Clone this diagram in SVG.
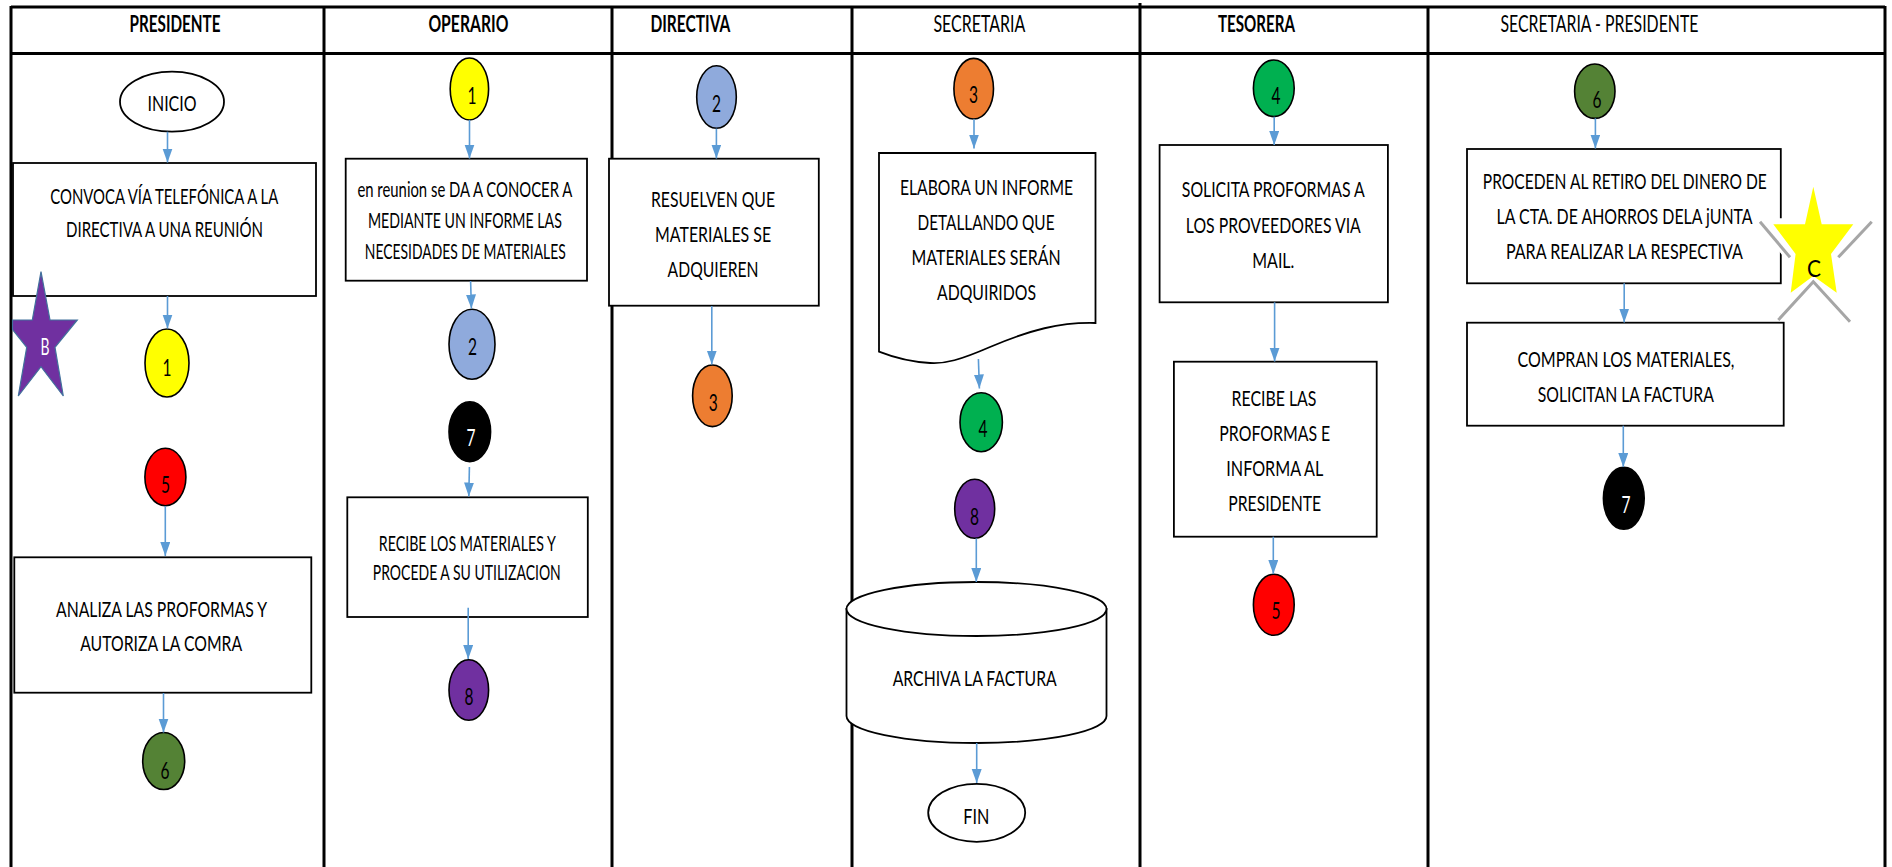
<svg xmlns="http://www.w3.org/2000/svg" width="1892" height="867" viewBox="0 0 1892 867">
  <defs>
    <style>
      .lane { stroke: #000; stroke-width: 3; fill: none; }
      .box { fill: #fff; stroke: #000; stroke-width: 1.8; }
      .conn { stroke: #5B9BD5; stroke-width: 1.6; fill: none; marker-end: url(#arrow); }
      .dot { stroke: #000; stroke-width: 1.6; }
      .t { font-family: Lato, "Liberation Sans", sans-serif; font-size: 22px; fill: #000; text-anchor: middle; }
      .h { font-family: Lato, "Liberation Sans", sans-serif; font-size: 23px; fill: #000; text-anchor: middle; }
      .hb { font-weight: bold; }
      .n { font-family: Lato, "Liberation Sans", sans-serif; font-size: 23px; fill: #000; text-anchor: middle; }
      .w { fill: #fff; }
    </style>
    <marker id="arrow" markerUnits="userSpaceOnUse" markerWidth="16" markerHeight="12" refX="14" refY="5" orient="auto">
      <path d="M0,0 L14,5 L0,10 Z" fill="#5B9BD5"/>
    </marker>
  </defs>

  <rect width="1892" height="867" fill="#fff"/>

  <!-- swimlane grid -->
  <g id="lanes">
    <line class="lane" x1="11" y1="7" x2="1885" y2="7"/>
    <line class="lane" x1="11" y1="53.5" x2="1885" y2="53.5"/>
    <line class="lane" x1="11" y1="6" x2="11" y2="867"/>
    <line class="lane" x1="324" y1="6" x2="324" y2="867"/>
    <line class="lane" x1="612" y1="6" x2="612" y2="867"/>
    <line class="lane" x1="852" y1="6" x2="852" y2="867"/>
    <line class="lane" x1="1140" y1="3" x2="1140" y2="867"/>
    <line class="lane" x1="1428" y1="6" x2="1428" y2="867"/>
    <line class="lane" x1="1885" y1="6" x2="1885" y2="867"/>
    <text class="h hb" x="175" y="32" textLength="91" lengthAdjust="spacingAndGlyphs">PRESIDENTE</text>
    <text class="h hb" x="468.4" y="32" textLength="80" lengthAdjust="spacingAndGlyphs">OPERARIO</text>
    <text class="h hb" x="690.4" y="32" textLength="80" lengthAdjust="spacingAndGlyphs">DIRECTIVA</text>
    <text class="h" x="979.4" y="32" textLength="92" lengthAdjust="spacingAndGlyphs">SECRETARIA</text>
    <text class="h hb" x="1256.5" y="32" textLength="77" lengthAdjust="spacingAndGlyphs">TESORERA</text>
    <text class="h" x="1599.4" y="32" textLength="198" lengthAdjust="spacingAndGlyphs">SECRETARIA - PRESIDENTE</text>
  </g>

  <!-- PRESIDENTE lane -->
  <g id="inicio">
    <ellipse class="box" cx="172" cy="101.7" rx="52" ry="30"/>
    <text class="t" x="172" y="110.7" textLength="49" lengthAdjust="spacingAndGlyphs">INICIO</text>
  </g>
  <g id="convoca">
    <rect class="box" x="13" y="163" width="303" height="133"/>
    <text class="t" x="164.3" y="204" textLength="228" lengthAdjust="spacingAndGlyphs">CONVOCA VÍA TELEFÓNICA A LA</text>
    <text class="t" x="164.5" y="237.3" textLength="197" lengthAdjust="spacingAndGlyphs">DIRECTIVA A UNA REUNIÓN</text>
  </g>
  <g id="star-b">
    <polygon points="41,271.7 50,320 77.3,320 55,347.3 63.3,396 41,366.7 18.3,396 26.7,347.3 12.5,329.5 12.5,320 32.3,320" fill="#7030A0" stroke="#41719C" stroke-width="1.2" stroke-linejoin="miter"/>
    <text class="n w" x="45" y="355" textLength="9" lengthAdjust="spacingAndGlyphs">B</text>
  </g>
  <g id="pres-1">
    <ellipse class="dot" cx="167" cy="363" rx="22" ry="34" fill="#FFFF00"/>
    <text class="n" x="167" y="376" textLength="9" lengthAdjust="spacingAndGlyphs">1</text>
  </g>
  <g id="pres-5">
    <ellipse class="dot" cx="165.4" cy="477" rx="20.5" ry="28.7" fill="#FF0000"/>
    <text class="n" x="165.6" y="492.7" textLength="9" lengthAdjust="spacingAndGlyphs">5</text>
  </g>
  <g id="analiza">
    <rect class="box" x="14.3" y="557.3" width="297" height="135.4"/>
    <text class="t" x="161.5" y="617" textLength="211" lengthAdjust="spacingAndGlyphs">ANALIZA LAS PROFORMAS Y</text>
    <text class="t" x="161.2" y="651.3" textLength="162" lengthAdjust="spacingAndGlyphs">AUTORIZA LA COMRA</text>
  </g>
  <g id="pres-6">
    <ellipse class="dot" cx="163.7" cy="761" rx="21" ry="28.5" fill="#548235"/>
    <text class="n" x="165" y="778.7" textLength="9" lengthAdjust="spacingAndGlyphs">6</text>
  </g>

  <!-- OPERARIO lane -->
  <g id="oper-1">
    <ellipse class="dot" cx="469.4" cy="89" rx="19.2" ry="31" fill="#FFFF00"/>
    <text class="n" x="472" y="104" textLength="9" lengthAdjust="spacingAndGlyphs">1</text>
  </g>
  <g id="reunion">
    <rect class="box" x="345.7" y="158.7" width="241.3" height="122"/>
    <text class="t" x="464.9" y="196.7" textLength="215" lengthAdjust="spacingAndGlyphs">en reunion se DA A CONOCER A</text>
    <text class="t" x="464.9" y="228.3" textLength="194" lengthAdjust="spacingAndGlyphs">MEDIANTE  UN INFORME LAS</text>
    <text class="t" x="465.3" y="259.3" textLength="201" lengthAdjust="spacingAndGlyphs">NECESIDADES  DE MATERIALES</text>
  </g>
  <g id="oper-2">
    <ellipse class="dot" cx="472" cy="344.3" rx="23" ry="35" fill="#8FAADC"/>
    <text class="n" x="472.6" y="355" textLength="9" lengthAdjust="spacingAndGlyphs">2</text>
  </g>
  <g id="oper-7">
    <ellipse class="dot" cx="469.8" cy="431.7" rx="20.8" ry="30" fill="#000"/>
    <text class="n w" x="471" y="446" textLength="9" lengthAdjust="spacingAndGlyphs">7</text>
  </g>
  <g id="recibe-materiales">
    <rect class="box" x="347.3" y="497.3" width="240.5" height="119.7"/>
    <text class="t" x="467.3" y="550.7" textLength="177" lengthAdjust="spacingAndGlyphs">RECIBE LOS MATERIALES  Y</text>
    <text class="t" x="466.8" y="580.3" textLength="188" lengthAdjust="spacingAndGlyphs">PROCEDE A SU UTILIZACION</text>
  </g>
  <g id="oper-8">
    <ellipse class="dot" cx="468.8" cy="690" rx="19.8" ry="30.3" fill="#7030A0"/>
    <text class="n" x="469" y="705.3" textLength="9" lengthAdjust="spacingAndGlyphs">8</text>
  </g>

  <!-- DIRECTIVA lane -->
  <g id="dir-2">
    <ellipse class="dot" cx="716.5" cy="97" rx="19.8" ry="31.3" fill="#8FAADC"/>
    <text class="n" x="716.5" y="111.7" textLength="9" lengthAdjust="spacingAndGlyphs">2</text>
  </g>
  <g id="resuelven">
    <rect class="box" x="609" y="158.7" width="209.8" height="147"/>
    <text class="t" x="713" y="206.7" font-size="23" textLength="124" lengthAdjust="spacingAndGlyphs">RESUELVEN QUE</text>
    <text class="t" x="713.1" y="242.3" font-size="23" textLength="116" lengthAdjust="spacingAndGlyphs">MATERIALES SE</text>
    <text class="t" x="713.1" y="277.3" font-size="23" textLength="91" lengthAdjust="spacingAndGlyphs">ADQUIEREN</text>
  </g>
  <g id="dir-3">
    <ellipse class="dot" cx="712.4" cy="395.8" rx="19.8" ry="30.8" fill="#ED7D31"/>
    <text class="n" x="713.3" y="410.7" textLength="9" lengthAdjust="spacingAndGlyphs">3</text>
  </g>

  <!-- SECRETARIA lane -->
  <g id="sec-3">
    <ellipse class="dot" cx="973.7" cy="88.7" rx="19.8" ry="30.3" fill="#ED7D31"/>
    <text class="n" x="973.5" y="103.3" textLength="9" lengthAdjust="spacingAndGlyphs">3</text>
  </g>
  <g id="informe">
    <path class="box" d="M879,153 H1095.5 V323 C1060,322 1030,330 990,347 C960,360 945,364 930,363 C910,362 895,358 879,351.7 Z"/>
    <text class="t" x="986.5" y="195" textLength="173" lengthAdjust="spacingAndGlyphs">ELABORA UN INFORME</text>
    <text class="t" x="986" y="230" textLength="137" lengthAdjust="spacingAndGlyphs">DETALLANDO QUE</text>
    <text class="t" x="986.1" y="265" textLength="149" lengthAdjust="spacingAndGlyphs">MATERIALES SERÁN</text>
    <text class="t" x="986.5" y="300" textLength="99" lengthAdjust="spacingAndGlyphs">ADQUIRIDOS</text>
  </g>
  <g id="sec-4">
    <ellipse class="dot" cx="981.2" cy="422.2" rx="21.2" ry="29.5" fill="#00B050"/>
    <text class="n" x="983" y="437.3" textLength="9" lengthAdjust="spacingAndGlyphs">4</text>
  </g>
  <g id="sec-8">
    <ellipse class="dot" cx="974.7" cy="508.8" rx="20" ry="29.5" fill="#7030A0"/>
    <text class="n" x="974.5" y="525" textLength="9" lengthAdjust="spacingAndGlyphs">8</text>
  </g>
  <g id="archiva">
    <path class="box" d="M846.5,609 V716 A130,27 0 0 0 1106.5,716 V609 Z"/>
    <ellipse class="box" cx="976.5" cy="609" rx="130" ry="27"/>
    <text class="t" x="974.7" y="686.3" textLength="164" lengthAdjust="spacingAndGlyphs">ARCHIVA LA FACTURA</text>
  </g>
  <g id="fin">
    <ellipse class="box" cx="976.7" cy="812.8" rx="48.5" ry="29"/>
    <text class="t" x="976.3" y="823.7" textLength="26" lengthAdjust="spacingAndGlyphs">FIN</text>
  </g>

  <!-- TESORERA lane -->
  <g id="tes-4">
    <ellipse class="dot" cx="1273.8" cy="88.3" rx="20.4" ry="28.3" fill="#00B050"/>
    <text class="n" x="1276" y="104" textLength="9" lengthAdjust="spacingAndGlyphs">4</text>
  </g>
  <g id="solicita">
    <rect class="box" x="1159.6" y="145" width="228.3" height="157.3"/>
    <text class="t" x="1273.3" y="197.3" textLength="183" lengthAdjust="spacingAndGlyphs">SOLICITA PROFORMAS A</text>
    <text class="t" x="1273.3" y="233.3" textLength="175" lengthAdjust="spacingAndGlyphs">LOS PROVEEDORES VIA</text>
    <text class="t" x="1273.3" y="267.7" textLength="42" lengthAdjust="spacingAndGlyphs">MAIL.</text>
  </g>
  <g id="recibe-proformas">
    <rect class="box" x="1173.9" y="361.7" width="202.8" height="175"/>
    <text class="t" x="1274" y="406" textLength="85" lengthAdjust="spacingAndGlyphs">RECIBE LAS</text>
    <text class="t" x="1274.8" y="441" textLength="111" lengthAdjust="spacingAndGlyphs">PROFORMAS E</text>
    <text class="t" x="1274.8" y="476" textLength="97" lengthAdjust="spacingAndGlyphs">INFORMA AL</text>
    <text class="t" x="1274.7" y="511" textLength="93" lengthAdjust="spacingAndGlyphs">PRESIDENTE</text>
  </g>
  <g id="tes-5">
    <ellipse class="dot" cx="1273.8" cy="604.8" rx="20.4" ry="30.5" fill="#FF0000"/>
    <text class="n" x="1276" y="619.3" textLength="9" lengthAdjust="spacingAndGlyphs">5</text>
  </g>

  <!-- SECRETARIA - PRESIDENTE lane -->
  <g id="sp-6">
    <ellipse class="dot" cx="1594.8" cy="91.2" rx="20.2" ry="27.2" fill="#548235"/>
    <text class="n" x="1597" y="108.3" textLength="9" lengthAdjust="spacingAndGlyphs">6</text>
  </g>
  <g id="retiro">
    <rect class="box" x="1467" y="149" width="313.8" height="134.3"/>
    <text class="t" x="1624.8" y="189.3" textLength="284" lengthAdjust="spacingAndGlyphs">PROCEDEN AL RETIRO DEL DINERO DE</text>
    <text class="t" x="1624.6" y="224.3" textLength="256" lengthAdjust="spacingAndGlyphs">LA CTA. DE AHORROS DELA jUNTA</text>
    <text class="t" x="1624.4" y="259.3" textLength="237" lengthAdjust="spacingAndGlyphs">PARA REALIZAR LA RESPECTIVA</text>
  </g>
  <g id="star-c">
    <g stroke="#fff" stroke-width="9" fill="none" stroke-linecap="round">
      <polyline points="1760,221.7 1790,257.3"/>
      <polyline points="1871.7,221.7 1838.3,257.3"/>
      <polyline points="1778.3,320 1813.3,281.7 1850,321.7"/>
    </g>
    <polygon points="1813.3,186.7 1821.7,224.3 1853.3,224.3 1831,254 1836.7,292.7 1813.3,276 1790.7,292.7 1795.6,254 1773.3,224.3 1805,224.3" fill="#fff" stroke="#fff" stroke-width="12" stroke-linejoin="round"/>
    <g stroke="#A6A6A6" stroke-width="3" fill="none">
      <polyline points="1760,221.7 1790,257.3"/>
      <polyline points="1871.7,221.7 1838.3,257.3"/>
      <polyline points="1778.3,320 1813.3,281.7 1850,321.7"/>
    </g>
    <polygon points="1813.3,186.7 1821.7,224.3 1853.3,224.3 1831,254 1836.7,292.7 1813.3,276 1790.7,292.7 1795.6,254 1773.3,224.3 1805,224.3" fill="#FFFF00"/>
    <text class="n" x="1814" y="276.7" font-size="24" textLength="14" lengthAdjust="spacingAndGlyphs">C</text>
  </g>
  <g id="compran">
    <rect class="box" x="1467" y="322.7" width="316.7" height="103"/>
    <text class="t" x="1626" y="367.3" textLength="217" lengthAdjust="spacingAndGlyphs">COMPRAN LOS MATERIALES,</text>
    <text class="t" x="1625.8" y="401.7" textLength="176" lengthAdjust="spacingAndGlyphs">SOLICITAN LA FACTURA</text>
  </g>
  <g id="sp-7">
    <ellipse class="dot" cx="1623.8" cy="498.3" rx="20.4" ry="31" fill="#000"/>
    <text class="n w" x="1626" y="513.3" textLength="9" lengthAdjust="spacingAndGlyphs">7</text>
  </g>

  <!-- flow connectors -->
  <g id="connectors">
    <line class="conn" x1="167.5" y1="131.7" x2="167.5" y2="162.5"/>
    <line class="conn" x1="167.5" y1="296" x2="167.5" y2="328.5"/>
    <line class="conn" x1="165.3" y1="506" x2="165.3" y2="556"/>
    <line class="conn" x1="163.5" y1="693" x2="163.5" y2="732.5"/>
    <line class="conn" x1="469.5" y1="120" x2="469.5" y2="158.5"/>
    <line class="conn" x1="470.6" y1="281" x2="471.4" y2="308.5"/>
    <line class="conn" x1="469.4" y1="467" x2="468.8" y2="496.5"/>
    <line class="conn" x1="468.2" y1="607.7" x2="468.2" y2="659"/>
    <line class="conn" x1="716.4" y1="128.5" x2="716.4" y2="158.5"/>
    <line class="conn" x1="711.8" y1="306" x2="711.8" y2="364.5"/>
    <line class="conn" x1="974" y1="119" x2="974" y2="148.5"/>
    <line class="conn" x1="978.4" y1="359" x2="979.4" y2="388.5"/>
    <line class="conn" x1="976.3" y1="538.5" x2="976.3" y2="582"/>
    <line class="conn" x1="976.7" y1="743" x2="976.7" y2="783"/>
    <line class="conn" x1="1274.2" y1="116.7" x2="1274.2" y2="145"/>
    <line class="conn" x1="1274.6" y1="302.3" x2="1274.6" y2="361.5"/>
    <line class="conn" x1="1273.3" y1="536.7" x2="1273.3" y2="574"/>
    <line class="conn" x1="1595.4" y1="118.3" x2="1595.4" y2="148.5"/>
    <line class="conn" x1="1624.2" y1="283.3" x2="1624.2" y2="322.5"/>
    <line class="conn" x1="1623.3" y1="425.7" x2="1623.3" y2="467"/>
  </g>
</svg>
